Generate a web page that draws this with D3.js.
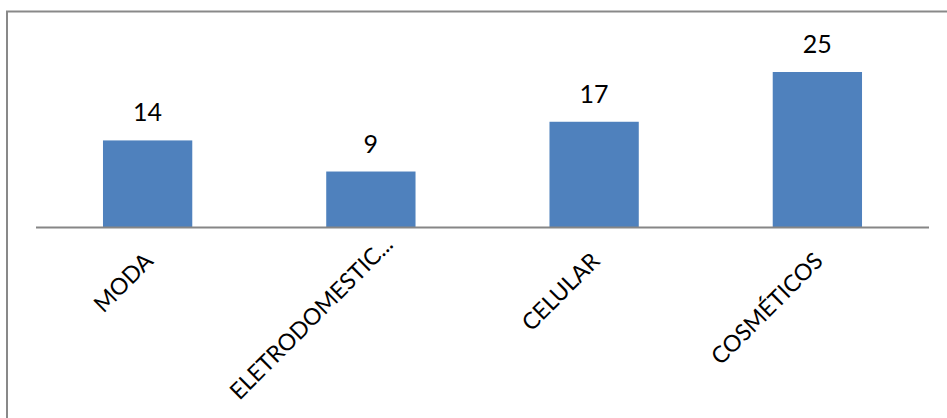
<!DOCTYPE html>
<html>
<head>
<meta charset="utf-8">
<script src="https://cdn.jsdelivr.net/npm/d3@7"></script>
<style>
  html, body { margin: 0; padding: 0; background: #ffffff; }
  svg { display: block; }
</style>
</head>
<body>
<svg id="chart" width="947" height="418"></svg>
<script>
// Categories and their counts
const categories = ["MODA", "ELETRODOMESTIC...", "CELULAR", "COSMÉTICOS"];
const values = [14, 9, 17, 25];

const width = 947, height = 418;
const svg = d3.select("#chart");
const fontFamily = "Lato, 'Open Sans', sans-serif";

// Outer frame (open on the right and bottom edges)
svg.append("rect")
  .attr("x", 7).attr("y", 11.5)
  .attr("width", width + 20).attr("height", height + 20)
  .attr("fill", "none")
  .attr("stroke", "#898989")
  .attr("stroke-width", 2);

const x = d3.scaleBand()
  .domain(categories)
  .range([36, 929])
  .paddingInner(0.6)
  .paddingOuter(0.3);

const y = d3.scaleLinear()
  .domain([0, 25])
  .range([227.5, 72]);

const data = categories.map((c, i) => ({ cat: c, val: values[i] }));

// Bars
svg.append("g").selectAll("rect")
  .data(data)
  .join("rect")
  .attr("x", d => x(d.cat))
  .attr("y", d => y(d.val))
  .attr("width", x.bandwidth())
  .attr("height", d => y(0) - y(d.val))
  .attr("fill", "#4f81bd");

// Category axis line
const axis = d3.axisBottom(x).tickSize(0).tickFormat("");
const gAxis = svg.append("g")
  .attr("transform", `translate(0,${y(0)})`)
  .call(axis);
gAxis.select(".domain")
  .attr("d", `M36,0H929`)
  .attr("stroke", "#868686")
  .attr("stroke-width", 2);

// Rotated category labels; long labels slide up along their diagonal
// so that they stay inside the plot's lower edge
const labelBottom = 401;
const diag = Math.SQRT1_2;
svg.append("g").selectAll("text")
  .data(data)
  .join("text")
  .attr("text-anchor", "end")
  .attr("font-family", fontFamily)
  .attr("font-size", 23)
  .attr("fill", "#000")
  .text(d => d.cat)
  .attr("transform", function (d) {
    const len = this.getComputedTextLength();
    let ax = x(d.cat) + x.bandwidth() / 2 + 7;
    let ay = y(0) + 35;
    const over = ay + len * diag - labelBottom;
    if (over > 0) { ax += over; ay -= over; }
    return `translate(${ax},${ay}) rotate(-45)`;
  });

// Value labels above bars
svg.append("g").selectAll("text")
  .data(data)
  .join("text")
  .attr("x", d => x(d.cat) + x.bandwidth() / 2)
  .attr("y", d => y(d.val) - 19)
  .attr("text-anchor", "middle")
  .attr("font-family", fontFamily)
  .attr("font-size", 25)
  .attr("fill", "#000")
  .text(d => d.val);
</script>
</body>
</html>
